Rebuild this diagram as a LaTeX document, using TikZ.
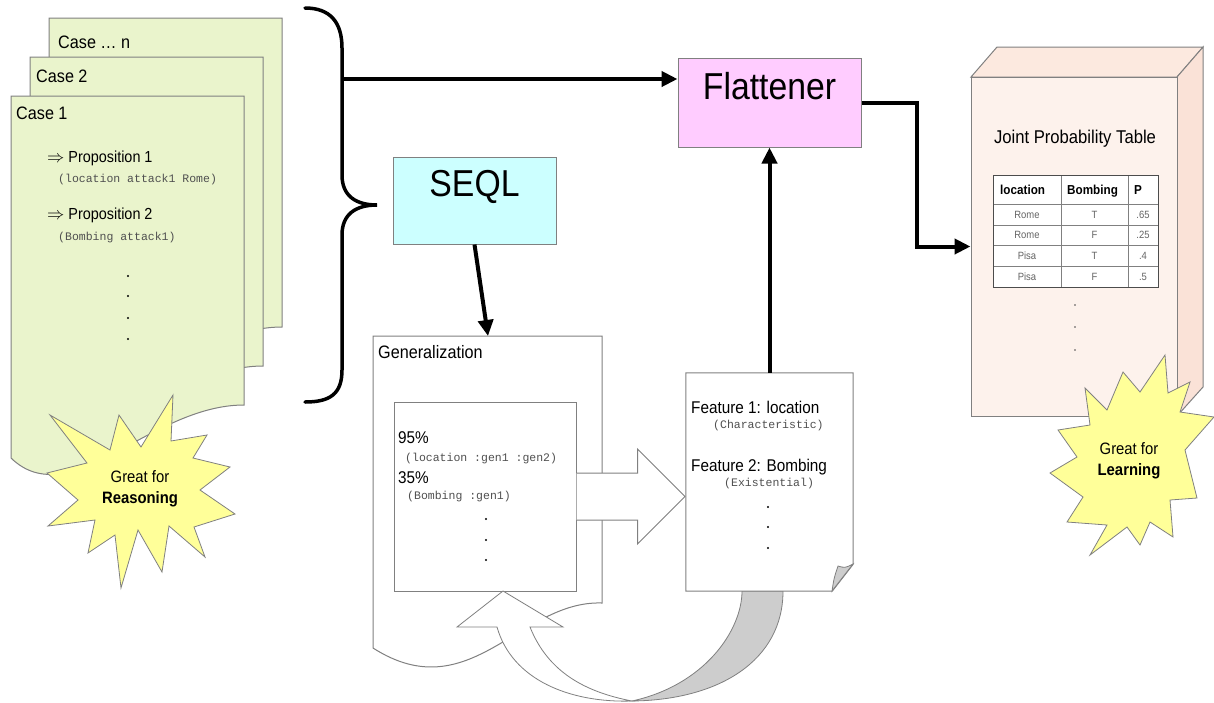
\documentclass[tikz,border=0pt]{standalone}
\usepackage{fontspec}
\setmainfont{Liberation Sans}[FakeStretch=0.9]
\setmonofont{Liberation Mono}
\usetikzlibrary{arrows.meta,calc}

\definecolor{casefill}{RGB}{234,244,204}
\definecolor{seqlfill}{RGB}{204,255,255}
\definecolor{flatfill}{RGB}{255,204,255}
\definecolor{starfill}{RGB}{255,255,153}
\definecolor{jptfront}{RGB}{253,242,236}
\definecolor{jpttop}{RGB}{252,233,223}
\definecolor{jptside}{RGB}{250,226,215}
\definecolor{edge}{RGB}{128,128,128}
\definecolor{shade}{RGB}{205,205,205}
\definecolor{codegray}{RGB}{80,80,80}
\definecolor{cellgray}{RGB}{100,100,100}

\newcommand\setfs[1]{\fontsize{#1}{#1}\selectfont}

\begin{document}
\begin{tikzpicture}[x=1pt,y=-1pt,
  outline/.style={draw=edge, line width=1pt},
  page/.style={outline, fill=casefill},
  procbox/.style={outline, inner sep=0pt},
  txt/.style={inner sep=0pt, anchor=base west},
  ctxt/.style={inner sep=0pt, anchor=base},
  code/.style={inner sep=0pt, anchor=base west, text=codegray, font=\ttfamily\setfs{11.5}},
  arr/.style={line width=4pt, -{Triangle[length=16pt,width=15pt]}},
  burst/.style={draw=edge, line width=0.8pt, fill=starfill, line join=miter},
  dot/.style={fill=black, radius=1.1pt}
]
\useasboundingbox (0,0) rectangle (1214,702);
\fill[white] (0,0) rectangle (1214,702);

% ---------------- stacked case pages ----------------
\foreach \dx/\dy in {38/-78, 19/-39, 0/0}{
  \begin{scope}[shift={(\dx,\dy)}]
    \draw[page] (11,96) -- (244,96) -- (244,405)
      .. controls (150,405) and (70,515) .. (11,458) -- cycle;
  \end{scope}
}
\node[txt, font=\setfs{18}] (casen) at (58,48.5) {Case \dots\ n};
\node[txt, font=\setfs{18}] (case2) at (36,82.5) {Case 2};
\node[txt, font=\setfs{18}] (case1) at (16,119.5) {Case 1};
\node[txt, font=\setfs{16}] (prop1) at (47,162.5) {$\Rightarrow$ Proposition 1};
\node[code] (code1) at (58,182.5) {(location attack1 Rome)};
\node[txt, font=\setfs{16}] (prop2) at (47,219.5) {$\Rightarrow$ Proposition 2};
\node[code] (code2) at (58,240.5) {(Bombing attack1)};
\foreach \y in {276,296,318,339} \fill (128,\y) circle[radius=1.1pt];

% burst: reasoning
\draw[burst] (50,415) -- (110,450) -- (119,415) -- (141,447) -- (173,395) -- (171,441)
  -- (207,435) -- (193,458) -- (230,467) -- (200,490) -- (235,514) -- (194,527)
  -- (205,557) -- (169,526) -- (162,572) -- (138,530) -- (121,588) -- (115,535)
  -- (88,553) -- (95,520) -- (48,526) -- (78,500) -- (47,473) -- (87,463) -- cycle;
\node[ctxt, font=\setfs{16.5}] (reas1) at (140,482) {Great for};
\node[ctxt, font=\bfseries\setfs{16.5}] (reas2) at (140,503) {Reasoning};

% ---------------- brace ----------------
\draw[line width=3.5pt, line cap=round]
  (305,8) .. controls (330,8) and (342,22) .. (342,48) -- (342,175)
  .. controls (342,196) and (356,205) .. (377,205)
  .. controls (356,205) and (342,214) .. (342,235) -- (342,370)
  .. controls (342,394) and (330,402) .. (305,402);
\coordinate (bj) at (342,79);

% ---------------- SEQL and Flattener ----------------
\node[procbox, fill=seqlfill, minimum width=163pt, minimum height=87pt] (seql) at (474.5,200.5) {};
\node[ctxt, font=\setfs{37.5}] at (474.5,196.5) {SEQL};
\node[procbox, fill=flatfill, minimum width=183pt, minimum height=89pt] (flat) at (769.5,102.5) {};
\node[ctxt, font=\setfs{37.5}] at (769.5,99) {Flattener};

\draw[arr] (bj) -- (flat.west |- bj);

% ---------------- generalization page ----------------
\draw[outline, fill=white] (373,336) -- (602,336) -- (602,603)
  .. controls (520,600) and (470,710) .. (373,648) -- cycle;
\coordinate (gentop) at (488,336);
\node[txt, font=\setfs{18}] (genlbl) at (378,358.5) {Generalization};
\node[procbox, fill=white, minimum width=182pt, minimum height=189pt] (genin) at (485,496.5) {};
\node[txt, font=\setfs{17}] (p95) at (398,443) {95\%};
\node[code] (g1) at (405,461.5) {(location :gen1 :gen2)};
\node[txt, font=\setfs{17}] (p35) at (398,483) {35\%};
\node[code] (g2) at (407,499.5) {(Bombing :gen1)};
\foreach \y in {519,540,560} \fill (486,\y) circle[radius=1.1pt];

\draw[arr] (seql.south) -- (gentop);

% block arrow towards the feature page
\fill[white] ($(genin.east)+(0,-23.5)$) -- ++(61,0) -- ++(0,-24) -- (685,496.5)
  -- ($(genin.east)+(61,47.5)$) -- ++(0,-24) -- ($(genin.east)+(0,23.5)$) -- cycle;
\draw[outline, line join=miter] ($(genin.east)+(0,-23.5)$) -- ++(61,0) -- ++(0,-24) -- (685,496.5)
  -- ($(genin.east)+(61,47.5)$) -- ++(0,-24) -- ($(genin.east)+(0,23.5)$);

% ---------------- feature page ----------------
\node[minimum width=167pt, minimum height=218pt, inner sep=0pt] (feat) at (769.5,482) {};
% shaded back of the curved return arrow
\draw[outline, line width=0.8pt, fill=shade] (742,591) .. controls (742,630) and (705,685) .. (632,701)
  .. controls (720,700) and (783,660) .. (783,591) -- cycle;
\draw[outline, fill=white] (feat.north west) -- (feat.north east) -- ($(feat.south east)+(0,-27)$)
  -- ($(feat.south east)+(-21,0)$) -- (feat.south west) -- cycle;
\draw[outline, line width=0.8pt, fill=shade] (832,591) .. controls (834,578) .. (838,566)
  .. controls (845,568) .. (853,564) -- cycle;
\node[txt, font=\setfs{17}] (f1) at (691,413) {Feature 1: location};
\node[code] (f1c) at (713,428.5) {(Characteristic)};
\node[txt, font=\setfs{17}] (f2) at (691,471) {Feature 2: Bombing};
\node[code] (f2c) at (724,486.5) {(Existential)};
\foreach \y in {507,527,548} \fill (768,\y) circle[radius=1.1pt];

\draw[arr] (feat.north) -- (flat.south);

% curved return arrow (front face)
\draw[outline, line width=0.8pt, fill=white, line join=miter] (497,627) -- (457,627) -- (503,591) -- (563,627) -- (530,627)
  .. controls (548,672) and (585,692) .. (632,701)
  .. controls (570,703) and (512,680) .. (497,627) -- cycle;

% ---------------- joint probability table block ----------------
\draw[outline, fill=jpttop] (971,77) -- (997,47) -- (1203,47) -- (1177,77) -- cycle;
\draw[outline, fill=jptside] (1177,77) -- (1203,47) -- (1203,387) -- (1177,416) -- cycle;
\node[procbox, fill=jptfront, minimum width=206pt, minimum height=339pt] (jpt) at (1074,246.5) {};
\node[ctxt, font=\setfs{18.5}] (jptlbl) at (1075,143.5) {Joint Probability Table};

\draw[arr] (flat.east) -- ++(55,0) |- (jpt.west);

% table
\fill[white] (993,175) rectangle (1158,287);
\draw[draw=edge, line width=0.6pt] (993,204) -- (1158,204) (993,225) -- (1158,225)
  (993,245) -- (1158,245) (993,266) -- (1158,266)
  (1061,175) -- (1061,287) (1128,175) -- (1128,287);
\draw[draw=black!70, line width=1pt] (993,175) rectangle (1158,287);
\node[txt, font=\setfs{13}\bfseries] (h1) at (1000,194.5) {location};
\node[txt, font=\setfs{13}\bfseries] (h2) at (1067,194.5) {Bombing};
\node[txt, font=\setfs{13}\bfseries] (h3) at (1134,194.5) {P};
\foreach \y/\a/\b/\c in {214.5/Rome/T/.65, 235/Rome/F/.25, 255.5/Pisa/T/.4, 276.5/Pisa/F/.5}{
  \node[inner sep=0pt, text=cellgray, font=\setfs{10.5}] at (1027,\y) {\a};
  \node[inner sep=0pt, text=cellgray, font=\setfs{10.5}] at (1094.5,\y) {\b};
  \node[inner sep=0pt, text=cellgray, font=\setfs{10.5}] at (1143,\y) {\c};
}
\foreach \y in {305,327,350} \fill[black!70] (1075,\y) circle[radius=0.9pt];

% burst: learning
\draw[burst] (1085,388) -- (1107,410) -- (1123,372) -- (1140,392) -- (1165,355) -- (1168,393)
  -- (1190,382) -- (1180,412) -- (1214,417) -- (1185,450) -- (1197,498) -- (1170,500)
  -- (1173,537) -- (1150,522) -- (1140,545) -- (1127,527) -- (1090,555) -- (1107,525)
  -- (1067,522) -- (1083,497) -- (1050,473) -- (1077,457) -- (1058,430) -- (1090,425) -- cycle;
\node[ctxt, font=\setfs{16.5}] (learn1) at (1129,454) {Great for};
\node[ctxt, font=\bfseries\setfs{16.5}] (learn2) at (1129,475) {Learning};
\end{tikzpicture}
\end{document}
